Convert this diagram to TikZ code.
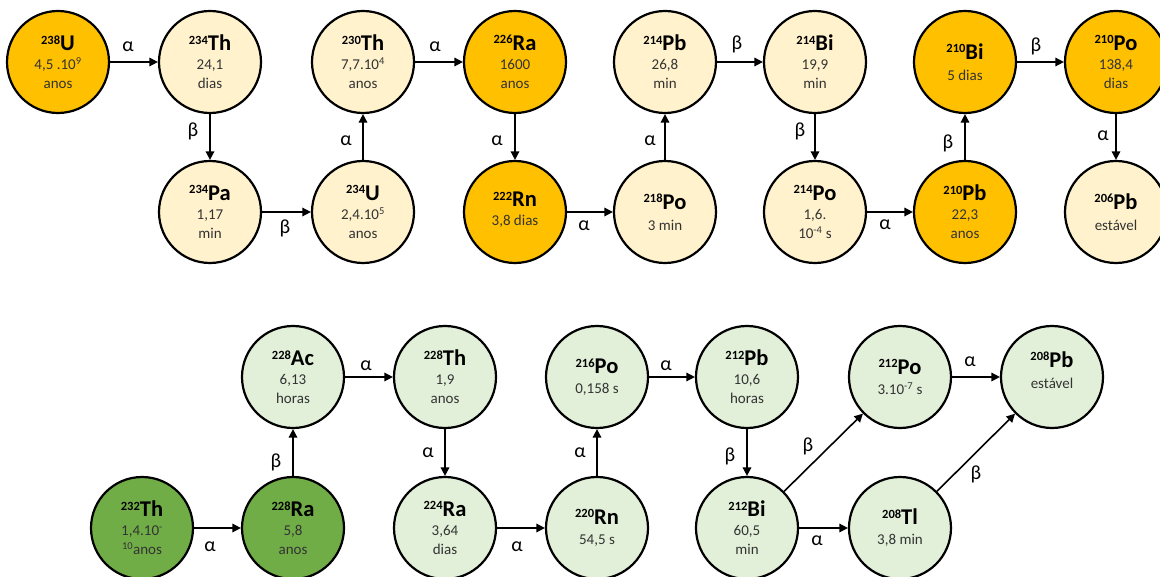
\documentclass[tikz,border=0pt]{standalone}
\usepackage{fontspec}
\setmainfont{Carlito}
\usetikzlibrary{arrows.meta}
\definecolor{gold}{HTML}{FFC000}
\definecolor{cream}{HTML}{FFF2CC}
\definecolor{dgreen}{HTML}{70AD47}
\definecolor{lgreen}{HTML}{E2F0D9}
\definecolor{txt}{HTML}{333333}
\newcommand{\nuc}[2]{{\color{black}\bfseries{\fontsize{12.5}{12}\selectfont\raisebox{6.5pt}{#1}}{\fontsize{22.5}{19}\selectfont #2}}}
\newcommand{\dn}[1]{\rule[-#1]{0pt}{0pt}}
\begin{document}
\begin{tikzpicture}[x=1pt,y=-1pt,
  nucl/.style={circle,draw=black,line width=2.2pt,minimum size=102pt,inner sep=0pt,align=center,font=\fontsize{15}{19}\selectfont,text=txt},
  gA/.style={nucl,fill=gold},
  gB/.style={nucl,fill=cream},
  vA/.style={nucl,fill=dgreen},
  vB/.style={nucl,fill=lgreen},
  arr/.style={line width=1.6pt,-{Triangle[length=8.5pt,width=8.5pt]}},
  lbl/.style={inner sep=0pt,font=\fontsize{20}{20}\selectfont}]
\useasboundingbox (0,0) rectangle (1160,577);
% top chain
\node[gA] (u238) at (58,62) {\nuc{238}{U}\\4,5 .10\textsuperscript{9}\\anos};
\node[gB] (th234) at (210,62) {\nuc{234}{Th}\\24,1\\dias};
\node[gB] (th230) at (363,62) {\nuc{230}{Th}\\7,7.10\textsuperscript{4}\\anos};
\node[gA] (ra226) at (515,62) {\nuc{226}{Ra}\\1600\\anos};
\node[gB] (pb214) at (665,62) {\nuc{214}{Pb}\\26,8\\min};
\node[gB] (bi214) at (815,62) {\nuc{214}{Bi}\\19,9\\min};
\node[gA] (bi210) at (965,62) {\nuc{210}{Bi}\\[2pt]5 dias};
\node[gA] (po210) at (1116,62) {\nuc{210}{Po}\\138,4\\dias};
\node[gB] (pa234) at (210,212) {\nuc{234}{Pa}\\1,17\\min};
\node[gB] (u234) at (363,212) {\nuc{234}{U}\\2,4.10\textsuperscript{5}\\anos};
\node[gA] (rn222) at (515,212) {\nuc{222}{Rn}\\3,8 dias\dn{6pt}};
\node[gB] (po218) at (665,212) {\nuc{218}{Po}\\[2pt]3 min};
\node[gB] (po214) at (815,212) {\nuc{214}{Po}\\1,6.\\10\textsuperscript{-4} s};
\node[gA] (pb210) at (965,212) {\nuc{210}{Pb}\\22,3\\anos};
\node[gB] (pb206) at (1116,212) {\nuc{206}{Pb}\\[2pt]estável};
% bottom chain
\node[vA] (th232) at (142,528) {\nuc{232}{Th}\\1,4.10\textsuperscript{-}\\\textsuperscript{10}anos};
\node[vA] (ra228) at (293,528) {\nuc{228}{Ra}\\5,8\\anos};
\node[vB] (ac228) at (293,377) {\nuc{228}{Ac}\\6,13\\horas};
\node[vB] (th228) at (445,377) {\nuc{228}{Th}\\1,9\\anos};
\node[vB] (ra224) at (445,528) {\nuc{224}{Ra}\\3,64\\dias};
\node[vB] (rn220) at (597,528) {\nuc{220}{Rn}\\[1pt]54,5 s};
\node[vB] (po216) at (597,377) {\nuc{216}{Po}\\[1pt]0,158 s};
\node[vB] (pb212) at (747,377) {\nuc{212}{Pb}\\10,6\\horas};
\node[vB] (bi212) at (747,528) {\nuc{212}{Bi}\\60,5\\min};
\node[vB] (po212) at (900,377) {\nuc{212}{Po}\\[1pt]3.10\textsuperscript{-7} s};
\node[vB] (tl208) at (900,528) {\nuc{208}{Tl}\\[1pt]3,8 min};
\node[vB] (pb208) at (1052,377) {\nuc{208}{Pb}\\[2pt]estável\dn{14pt}};
% arrows top
\draw[arr] (u238) -- (th234);
\draw[arr] (th234) -- (pa234);
\draw[arr] (pa234) -- (u234);
\draw[arr] (u234) -- (th230);
\draw[arr] (th230) -- (ra226);
\draw[arr] (ra226) -- (rn222);
\draw[arr] (rn222) -- (po218);
\draw[arr] (po218) -- (pb214);
\draw[arr] (pb214) -- (bi214);
\draw[arr] (bi214) -- (po214);
\draw[arr] (po214) -- (pb210);
\draw[arr] (pb210) -- (bi210);
\draw[arr] (bi210) -- (po210);
\draw[arr] (po210) -- (pb206);
% arrows bottom
\draw[arr] (th232) -- (ra228);
\draw[arr] (ra228) -- (ac228);
\draw[arr] (ac228) -- (th228);
\draw[arr] (th228) -- (ra224);
\draw[arr] (ra224) -- (rn220);
\draw[arr] (rn220) -- (po216);
\draw[arr] (po216) -- (pb212);
\draw[arr] (pb212) -- (bi212);
\draw[arr] (bi212) -- (po212);
\draw[arr] (bi212) -- (tl208);
\draw[arr] (po212) -- (pb208);
\draw[arr] (tl208) -- (pb208);
% labels top
\node[lbl] (l1) at (128,47) {α};
\node[lbl] (l2) at (193,131) {β};
\node[lbl] (l3) at (285,228) {β};
\node[lbl] (l4) at (346,141) {α};
\node[lbl] (l5) at (435,47) {α};
\node[lbl] (l6) at (497,141) {α};
\node[lbl] (l7) at (584,226) {α};
\node[lbl] (l8) at (650,141) {α};
\node[lbl] (l9) at (737,44) {β};
\node[lbl] (l10) at (800,131) {β};
\node[lbl] (l11) at (885,225) {α};
\node[lbl] (l12) at (948,143) {β};
\node[lbl] (l13) at (1036,46) {β};
\node[lbl] (l14) at (1103,136) {α};
% labels bottom
\node[lbl] (m1) at (210,547) {α};
\node[lbl] (m2) at (276,462) {β};
\node[lbl] (m3) at (366,366) {α};
\node[lbl] (m4) at (428,453) {α};
\node[lbl] (m5) at (517,547) {α};
\node[lbl] (m6) at (580,453) {α};
\node[lbl] (m7) at (666,366) {α};
\node[lbl] (m8) at (730,456) {β};
\node[lbl] (m9) at (808,446) {β};
\node[lbl] (m10) at (817,541) {α};
\node[lbl] (m11) at (970,362) {α};
\node[lbl] (m12) at (976,474) {β};
\end{tikzpicture}
\end{document}
